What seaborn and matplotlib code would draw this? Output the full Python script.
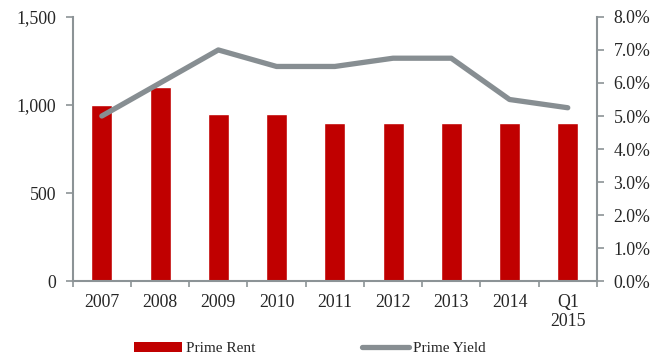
import numpy as np
import pandas as pd
import matplotlib
matplotlib.use("Agg")
import matplotlib.pyplot as plt
import seaborn as sns
from matplotlib.ticker import FuncFormatter, FixedLocator
from matplotlib.patches import Patch
from matplotlib.lines import Line2D

categories = ["2007", "2008", "2009", "2010", "2011", "2012", "2013", "2014", "Q1\n2015"]
prime_rent = [1000, 1100, 950, 950, 900, 900, 900, 900, 900]
prime_yield = [5.0, 6.0, 7.0, 6.5, 6.5, 6.75, 6.75, 5.5, 5.25]

bar_color = "#C00000"
line_color = "#878E92"
spine_color = "#8C9396"

sns.set_style("white")
plt.rcParams["font.family"] = ["Liberation Serif", "DejaVu Serif"]
plt.rcParams["font.size"] = 12.8

fig = plt.figure(figsize=(6.61, 3.6), dpi=100)
ax = fig.add_axes([0.110, 0.219, 0.793, 0.734])

df = pd.DataFrame({"cat": categories, "rent": prime_rent, "yield": prime_yield})
sns.barplot(data=df, x="cat", y="rent", color=bar_color, saturation=1, width=0.36, ax=ax)
ax.set_ylim(0, 1500)
ax.set_yticks([0, 500, 1000, 1500])
ax.yaxis.set_major_formatter(FuncFormatter(lambda v, p: f"{int(v):,}"))
ax.set_xlim(-0.5, len(categories) - 0.5)

ax2 = ax.twinx()
sns.lineplot(data=df, x="cat", y="yield", color=line_color, linewidth=3.8, ax=ax2,
             sort=False, solid_capstyle="round")
ax2.set_ylim(0, 8)
ax2.set_yticks(np.arange(0, 9, 1))
ax2.yaxis.set_major_formatter(FuncFormatter(lambda v, p: f"{v:.1f}%"))
ax2.set_xlim(-0.5, len(categories) - 0.5)

for a in (ax, ax2):
    a.set_xlabel("")
    a.set_ylabel("")
    for s in a.spines.values():
        s.set_color(spine_color)
        s.set_linewidth(1.5)
    a.spines["top"].set_visible(False)

ax2.spines["left"].set_visible(False)
ax2.spines["bottom"].set_visible(False)
ax.spines["right"].set_visible(False)

ax.tick_params(axis="y", which="major", left=True, length=5, width=1.2, color=spine_color, pad=7, labelsize=12.8)
ax2.tick_params(axis="y", which="major", right=True, length=5, width=1.2, color=spine_color, pad=7, labelsize=12.8)
ax.tick_params(axis="x", which="major", length=0, pad=9, labelsize=12.8)
ax.xaxis.set_minor_locator(FixedLocator(np.arange(-0.5, len(categories), 1.0)))
ax.tick_params(axis="x", which="minor", bottom=True, length=4, width=1.2, color=spine_color)

handles = [Patch(facecolor=bar_color, edgecolor="none"),
           Line2D([0], [0], color=line_color, linewidth=3.8, solid_capstyle="round")]
fig.legend(handles, ["Prime Rent", "Prime Yield"], loc="center", ncol=2,
           bbox_to_anchor=(0.469, 0.031), frameon=False, handlelength=3.1, handleheight=0.6,
           columnspacing=7, handletextpad=0.25, fontsize=11, borderpad=0, borderaxespad=0)

fig.savefig("out.png", dpi=100)
